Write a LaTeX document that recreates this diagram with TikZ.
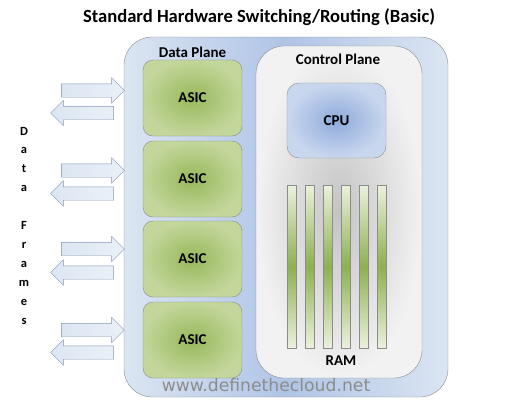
\documentclass[tikz,border=0pt]{standalone}
\usepackage{fontspec}
\setmainfont{Carlito}
\newfontfamily\webfont{DejaVu Sans}
\usetikzlibrary{shapes.arrows}

\definecolor{edgegray}{HTML}{8C8C8C}
\definecolor{planeblue}{HTML}{DBE5F2}
\definecolor{planedeep}{HTML}{AFC4E6}
\definecolor{ctrllight}{HTML}{F2F2F2}
\definecolor{ctrldark}{HTML}{C4C4C4}
\definecolor{asiclight}{HTML}{C3D69B}
\definecolor{asicdark}{HTML}{98B85A}
\definecolor{cpulight}{HTML}{C9D7EE}
\definecolor{cpudark}{HTML}{8EAADB}
\definecolor{ramlight}{HTML}{EBF1DE}
\definecolor{ramdark}{HTML}{8DB050}
\definecolor{arrowlight}{HTML}{DCE6F2}
\definecolor{arrowdark}{HTML}{7F9FD6}
\definecolor{arrowedge}{HTML}{8696B4}

\tikzset{
  label/.style={font=\bfseries\fontsize{15}{18}\selectfont},
  asic/.style={rectangle, draw=edgegray, rounded corners=10pt, inner color=asicdark, outer color=asiclight, minimum width=99pt, minimum height=76pt, label},
  rambar/.style={rectangle, draw=edgegray, top color=ramlight, bottom color=ramlight, middle color=ramdark, minimum width=9pt, minimum height=163pt, inner sep=0pt},
  frame/.style={single arrow, draw=arrowedge, left color=arrowlight, middle color=arrowdark, right color=arrowlight!60!white, minimum height=63pt, minimum width=25pt, single arrow head extend=6pt, inner xsep=0pt, inner ysep=6.5pt}
}

\begin{document}
\begin{tikzpicture}[x=1pt, y=-1pt]

\useasboundingbox (0,0) rectangle (520,410);

\draw (259,17) node (title) [font=\bfseries\fontsize{18.6}{22}\selectfont] {Standard Hardware Switching/Routing (Basic)};

\draw (286,217) node (DP) [rectangle, draw=edgegray, rounded corners=28pt, left color=planeblue, right color=planeblue, middle color=planedeep, minimum width=324pt, minimum height=360pt] {};
\draw (339,212) node (CP) [rectangle, draw=edgegray, rounded corners=28pt, inner color=ctrldark, outer color=ctrllight, minimum width=166pt, minimum height=332pt] {};

\draw (192.5,98) node (ASIC1) [asic] {ASIC};
\draw (192.5,179) node (ASIC2) [asic] {ASIC};
\draw (192.5,259) node (ASIC3) [asic] {ASIC};
\draw (192.5,340) node (ASIC4) [asic] {ASIC};

\draw (ASIC1.north) node (DPlabel) [above, inner sep=2pt, label] {Data Plane};
\draw (338,59) node (CPlabel) [label] {Control Plane};

\draw (336.5,120.5) node (CPU) [rectangle, draw=edgegray, rounded corners=12pt, inner color=cpudark, outer color=cpulight, minimum width=99pt, minimum height=75pt, label] {CPU};

\draw (291.5,266.5) node (RAM1) [rambar] {};
\draw (309.5,266.5) node (RAM2) [rambar] {};
\draw (327.5,266.5) node (RAM3) [rambar] {};
\draw (345.5,266.5) node (RAM4) [rambar] {};
\draw (363.5,266.5) node (RAM5) [rambar] {};
\draw (381.5,266.5) node (RAM6) [rambar] {};
\draw (341,361) node (RAMlabel) [label] {RAM};

% frames in and out
\draw (89.5,90.5) node (in1) [frame] {};
\draw (85.5,113) node (out1) [frame, shape border rotate=180] {};
\draw (89.5,170.5) node (in2) [frame] {};
\draw (85.5,193.5) node (out2) [frame, shape border rotate=180] {};
\draw (89.5,249) node (in3) [frame] {};
\draw (85.5,272.5) node (out3) [frame, shape border rotate=180] {};
\draw (89.5,330) node (in4) [frame] {};
\draw (85.5,352.5) node (out4) [frame, shape border rotate=180] {};

\draw (24,225.5) node (frames) [align=center, font=\bfseries\fontsize{12.5}{18.9}\selectfont] {D\\a\\t\\a\\[18.9pt]F\\r\\a\\m\\e\\s};

\draw (266,385) node (web) [text=edgegray, font=\webfont\fontsize{17.2}{20}\selectfont] {www.definethecloud.net};

\end{tikzpicture}
\end{document}
